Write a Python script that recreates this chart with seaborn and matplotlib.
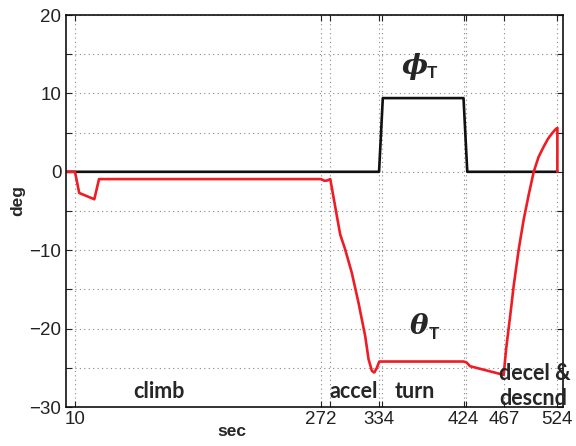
import matplotlib
matplotlib.use("Agg")
import matplotlib.pyplot as plt
import seaborn as sns
import pandas as pd

# Data
phi_t = [0, 334, 338, 424, 428, 524]
phi_v = [0, 0, 9.4, 9.4, 0, 0]

theta_t = [0, 10, 14.5, 30.6, 35.6, 272, 276, 279, 282, 292.6, 297.9, 305, 312.1,
           319.3, 322.8, 326.4, 328.9, 331.7, 334.2, 424, 427, 431, 466.8,
           469.5, 473.9, 477.4, 482.8, 488.1, 493.5, 498.8, 504, 509.4, 514, 518.3,
           521.5, 523.6, 524, 524]
theta_v = [0, 0, -2.7, -3.5, -0.93, -0.93, -1.15, -1.1, -0.93, -8.0, -9.9, -12.9, -16.7,
           -21.0, -23.9, -25.4, -25.6, -25.0, -24.2, -24.2, -24.3, -24.8, -25.9,
           -22.5, -18.2, -14.6, -9.9, -6.1, -2.9, 0.0, 1.9, 3.2, 4.2, 4.9,
           5.35, 5.57, 5.6, 0]

grid_x = [10, 272, 282, 334, 337, 424, 427, 467, 524]
xtick_labels = ["10", "272", "", "334", "", "424", "", "467", "524"]
ytick_pos = [-30, -25, -20, -15, -10, -5, 0, 5, 10, 15, 20]
ytick_labels = ["\u221230", "", "\u221220", "", "\u221210", "", "0", "", "10", "", "20"]

phases = ["climb", "accel", "turn", "decel &\ndescnd"]
phase_x = [159, 354, 415, 499]
phase_y = [391, 392, 391, 386]

sns.set_style("ticks")
plt.rcParams["font.family"] = ["Liberation Sans", "DejaVu Sans"]

fig = plt.figure(figsize=(5.76, 4.46), dpi=100)
W, H = 576, 446
ax = fig.add_axes([65.6 / W, 1 - 407 / H, (563 - 65.6) / W, (407 - 15) / H])

df_phi = pd.DataFrame({"t": phi_t, "v": phi_v})
df_theta = pd.DataFrame({"t": theta_t, "v": theta_v})
sns.lineplot(data=df_phi, x="t", y="v", ax=ax, color="#111111", lw=1.9,
             sort=False, estimator=None)
sns.lineplot(data=df_theta, x="t", y="v", ax=ax, color="#ee1c25", lw=1.9,
             sort=False, estimator=None)

ax.set_xlim(0, 530)
ax.set_ylim(-30, 20)
ax.set_xticks(grid_x)
ax.set_xticklabels(xtick_labels)
ax.set_yticks(ytick_pos)
ax.set_yticklabels(ytick_labels)
ax.tick_params(axis="both", direction="in", length=4, width=0.8, colors="#222222",
               labelsize=13.5, top=True, right=True, pad=3)
ax.grid(True, linestyle=(0, (1, 3)), color="#888888", lw=0.8)
for s in ax.spines.values():
    s.set_visible(True)
    s.set_color("#111111")
    s.set_linewidth(1.2)

ax.set_xlabel("sec", fontsize=12.5, fontweight="bold")
ax.xaxis.set_label_coords((231.7 - 65.6) / 497.4, (407 - 431) / 392)
ax.xaxis.label.set_va("center")
ax.set_ylabel("deg", fontsize=12.5, fontweight="bold")
ax.yaxis.set_label_coords((18 - 65.6) / 497.4, (407 - 200) / 392)
ax.yaxis.label.set_va("center")

def px(x, y):
    return x / W, 1 - y / H

for name, x0, y0 in zip(phases, phase_x, phase_y):
    ha = "left" if "\n" in name else "center"
    fig.text(*px(x0, y0), name, ha=ha, va="center", fontsize=15.5, fontweight="bold",
             family=["Lato", "DejaVu Sans"], linespacing=1.2)

fig.text(*px(415, 67), "\u03d5", ha="center", va="center", fontsize=20,
         fontweight="bold", style="italic", family=["DejaVu Serif"])
fig.text(*px(432, 73), "T", ha="center", va="center", fontsize=12.5,
         fontweight="bold", family=["Lato", "DejaVu Sans"])
fig.text(*px(419, 327), "\u03b8", ha="center", va="center", fontsize=20,
         fontweight="bold", style="italic", family=["DejaVu Serif"])
fig.text(*px(434, 334), "T", ha="center", va="center", fontsize=12.5,
         fontweight="bold", family=["Lato", "DejaVu Sans"])

fig.savefig("out.png", dpi=100)
